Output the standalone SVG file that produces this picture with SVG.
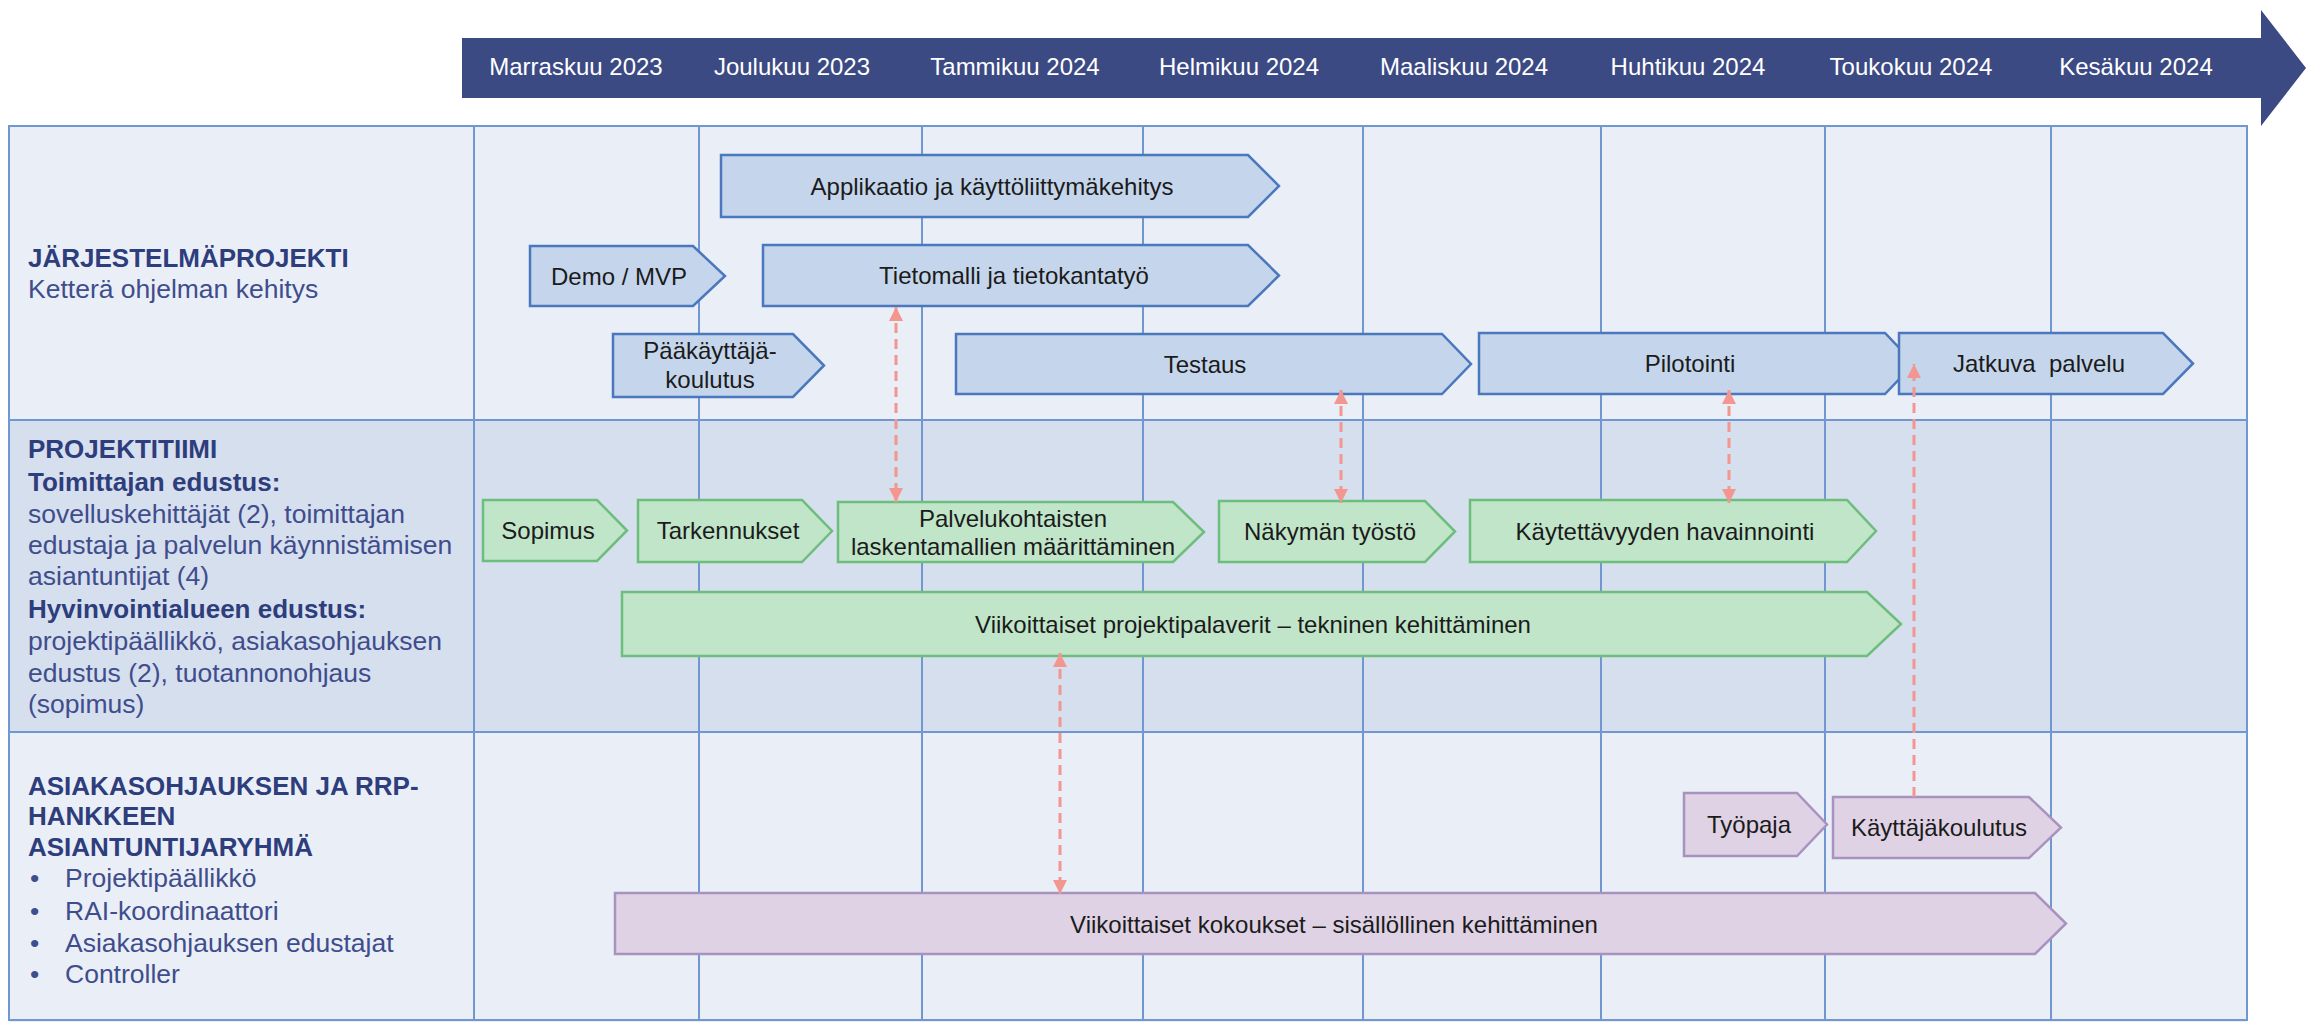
<svg xmlns="http://www.w3.org/2000/svg" width="2306" height="1022" viewBox="0 0 2306 1022">
<defs>
<style>
text{font-family:"Liberation Sans",Arial,sans-serif;}
.month{fill:#ffffff;font-size:24px;text-anchor:middle;}
.hd{fill:#2E3D7C;font-size:26px;font-weight:bold;}
.bd{fill:#3F4D8C;font-size:26.5px;}
.lbl{fill:#1b1b1b;font-size:24px;text-anchor:middle;}
.blue{fill:#C5D6EC;stroke:#4A77BD;stroke-width:2.5;}
.green{fill:#C1E5C9;stroke:#6DBE7C;stroke-width:2.5;}
.purple{fill:#DFD2E5;stroke:#A892BF;stroke-width:2.5;}
.grid{stroke:#7097D1;stroke-width:2;fill:none;}
.link{stroke:#F2968F;stroke-width:3;stroke-dasharray:10 6;fill:none;}
</style>
<marker id="ah" viewBox="0 0 14 14" refX="14" refY="7" markerWidth="14" markerHeight="14" markerUnits="userSpaceOnUse" orient="auto-start-reverse">
<path d="M0,0 L14,7 L0,14 Z" fill="#F2968F"/>
</marker>
</defs>

<rect x="0" y="0" width="2306" height="1022" fill="#ffffff"/>

<g id="timeline">
<polygon points="462,38 2261,38 2261,10 2306,68 2261,126 2261,98 462,98" fill="#3C4A84"/>
<text class="month" x="576" y="75">Marraskuu 2023</text>
<text class="month" x="792" y="75">Joulukuu 2023</text>
<text class="month" x="1015" y="75">Tammikuu 2024</text>
<text class="month" x="1239" y="75">Helmikuu 2024</text>
<text class="month" x="1464" y="75">Maaliskuu 2024</text>
<text class="month" x="1688" y="75">Huhtikuu 2024</text>
<text class="month" x="1911" y="75">Toukokuu 2024</text>
<text class="month" x="2136" y="75">Kesäkuu 2024</text>
</g>

<g id="table">
<rect x="9" y="126" width="2238" height="294" fill="#EAEFF7"/>
<rect x="9" y="420" width="2238" height="312" fill="#D6DFEE"/>
<rect x="9" y="732" width="2238" height="290" fill="#EAEFF7"/>
<rect class="grid" x="9" y="126" width="2238" height="894"/>
<line class="grid" x1="9" y1="420" x2="2247" y2="420"/>
<line class="grid" x1="9" y1="732" x2="2247" y2="732"/>
<line class="grid" x1="474" y1="126" x2="474" y2="1020"/>
<line class="grid" x1="699" y1="126" x2="699" y2="1020"/>
<line class="grid" x1="922" y1="126" x2="922" y2="1020"/>
<line class="grid" x1="1143" y1="126" x2="1143" y2="1020"/>
<line class="grid" x1="1363" y1="126" x2="1363" y2="1020"/>
<line class="grid" x1="1601" y1="126" x2="1601" y2="1020"/>
<line class="grid" x1="1825" y1="126" x2="1825" y2="1020"/>
<line class="grid" x1="2051" y1="126" x2="2051" y2="1020"/>
</g>

<g id="row1-label">
<text class="hd" x="28" y="267">JÄRJESTELMÄPROJEKTI</text>
<text class="bd" x="28" y="298">Ketterä ohjelman kehitys</text>
</g>
<g id="row2-label">
<text class="hd" x="28" y="458">PROJEKTITIIMI</text>
<text class="hd" x="28" y="491">Toimittajan edustus:</text>
<text class="bd" x="28" y="523">sovelluskehittäjät (2), toimittajan</text>
<text class="bd" x="28" y="554">edustaja ja palvelun käynnistämisen</text>
<text class="bd" x="28" y="585">asiantuntijat (4)</text>
<text class="hd" x="28" y="618">Hyvinvointialueen edustus:</text>
<text class="bd" x="28" y="650">projektipäällikkö, asiakasohjauksen</text>
<text class="bd" x="28" y="682">edustus (2), tuotannonohjaus</text>
<text class="bd" x="28" y="713">(sopimus)</text>
</g>
<g id="row3-label">
<text class="hd" x="28" y="795">ASIAKASOHJAUKSEN JA RRP-</text>
<text class="hd" x="28" y="825">HANKKEEN</text>
<text class="hd" x="28" y="856">ASIANTUNTIJARYHMÄ</text>
<text class="bd" x="30" y="887">•</text><text class="bd" x="65" y="887">Projektipäällikkö</text>
<text class="bd" x="30" y="920">•</text><text class="bd" x="65" y="920">RAI-koordinaattori</text>
<text class="bd" x="30" y="952">•</text><text class="bd" x="65" y="952">Asiakasohjauksen edustajat</text>
<text class="bd" x="30" y="983">•</text><text class="bd" x="65" y="983">Controller</text>
</g>

<g id="applikaatio">
<path class="blue" d="M721,155 H1248 L1279,186 L1248,217 H721 Z"/>
<text class="lbl" x="992" y="195">Applikaatio ja käyttöliittymäkehitys</text>
</g>
<g id="demo">
<path class="blue" d="M530,246 H693 L725,276 L693,306 H530 Z"/>
<text class="lbl" x="619" y="285">Demo / MVP</text>
</g>
<g id="tietomalli">
<path class="blue" d="M763,245 H1248 L1279,275.5 L1248,306 H763 Z"/>
<text class="lbl" x="1014" y="284">Tietomalli ja tietokantatyö</text>
</g>
<g id="paakayttaja">
<path class="blue" d="M613,334 H793 L824,365.5 L793,397 H613 Z"/>
<text class="lbl" x="710" y="359">Pääkäyttäjä-</text>
<text class="lbl" x="710" y="388">koulutus</text>
</g>
<g id="testaus">
<path class="blue" d="M956,334 H1442 L1471,364 L1442,394 H956 Z"/>
<text class="lbl" x="1205" y="373">Testaus</text>
</g>
<g id="pilotointi">
<path class="blue" d="M1479,333 H1885 L1914,363.5 L1885,394 H1479 Z"/>
<text class="lbl" x="1690" y="372">Pilotointi</text>
</g>
<g id="jatkuva">
<path class="blue" d="M1899,333 H2163 L2193,363.5 L2163,394 H1899 Z"/>
<text class="lbl" x="2039" y="372" xml:space="preserve">Jatkuva  palvelu</text>
</g>

<g id="sopimus">
<path class="green" d="M483,500 H597 L627,530.5 L597,561 H483 Z"/>
<text class="lbl" x="548" y="539">Sopimus</text>
</g>
<g id="tarkennukset">
<path class="green" d="M638,500 H802 L832,531 L802,562 H638 Z"/>
<text class="lbl" x="728" y="539">Tarkennukset</text>
</g>
<g id="palvelukohtaisten">
<path class="green" d="M838,502 H1173 L1204,532 L1173,562 H838 Z"/>
<text class="lbl" x="1013" y="527">Palvelukohtaisten</text>
<text class="lbl" x="1013" y="555">laskentamallien määrittäminen</text>
</g>
<g id="nakyman">
<path class="green" d="M1219,501 H1425 L1455,531.5 L1425,562 H1219 Z"/>
<text class="lbl" x="1330" y="540">Näkymän työstö</text>
</g>
<g id="kaytettavyyden">
<path class="green" d="M1470,500 H1847 L1876,531 L1847,562 H1470 Z"/>
<text class="lbl" x="1665" y="540">Käytettävyyden havainnointi</text>
</g>
<g id="projektipalaverit">
<path class="green" d="M622,592 H1867 L1901,624 L1867,656 H622 Z"/>
<text class="lbl" x="1253" y="633">Viikoittaiset projektipalaverit – tekninen kehittäminen</text>
</g>

<g id="tyopaja">
<path class="purple" d="M1684,793 H1797 L1827,824.5 L1797,856 H1684 Z"/>
<text class="lbl" x="1749" y="833">Työpaja</text>
</g>
<g id="kayttajakoulutus">
<path class="purple" d="M1833,797 H2029 L2061,827.5 L2029,858 H1833 Z"/>
<text class="lbl" x="1939" y="836">Käyttäjäkoulutus</text>
</g>
<g id="kokoukset">
<path class="purple" d="M615,893 H2035 L2066,923.5 L2035,954 H615 Z"/>
<text class="lbl" x="1334" y="933">Viikoittaiset kokoukset – sisällöllinen kehittäminen</text>
</g>

<g id="connectors">
<line class="link" x1="896" y1="307" x2="896" y2="502" marker-start="url(#ah)" marker-end="url(#ah)"/>
<line class="link" x1="1341" y1="390" x2="1341" y2="503" marker-start="url(#ah)" marker-end="url(#ah)"/>
<line class="link" x1="1729" y1="390" x2="1729" y2="503" marker-start="url(#ah)" marker-end="url(#ah)"/>
<line class="link" x1="1060" y1="653" x2="1060" y2="894" marker-start="url(#ah)" marker-end="url(#ah)"/>
<line class="link" x1="1914" y1="797" x2="1914" y2="364" marker-end="url(#ah)"/>
</g>
</svg>
